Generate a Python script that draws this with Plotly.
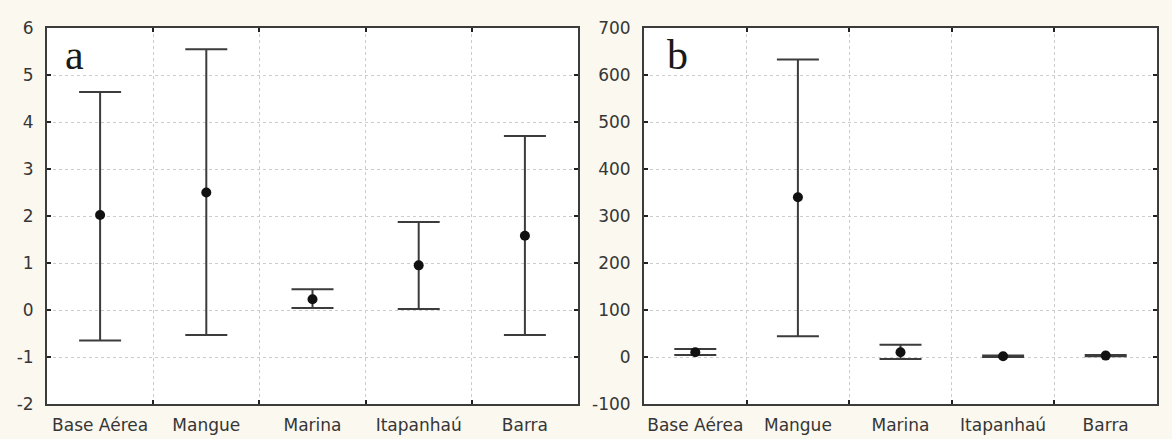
import plotly.graph_objects as go

# Sampling sites
sites = ["Base Aérea", "Mangue", "Marina", "Itapanhaú", "Barra"]

# Panel a: mean with lower / upper interval limits
mean_a = [2.02, 2.50, 0.23, 0.95, 1.58]
low_a = [-0.65, -0.53, 0.04, 0.02, -0.53]
high_a = [4.64, 5.55, 0.44, 1.87, 3.70]

# Panel b: mean with lower / upper interval limits
mean_b = [10, 340, 10, 1.5, 3]
low_b = [4, 44, -4, 0, 1.5]
high_b = [17, 633, 26, 3, 4.5]

# y-axis ticks (labels use a plain hyphen for negatives)
yticks_a = [-2, -1, 0, 1, 2, 3, 4, 5, 6]
yticks_b = [-100, 0, 100, 200, 300, 400, 500, 600, 700]

line_col = "#3c3c3c"
tick_font = dict(family="DejaVu Sans", size=17, color="#363636")


def interval_trace(mean, low, high, xa, ya):
    return go.Scatter(
        x=sites,
        y=mean,
        mode="markers",
        marker=dict(color="#111111", size=10),
        error_y=dict(
            type="data",
            symmetric=False,
            array=[h - m for h, m in zip(high, mean)],
            arrayminus=[m - l for m, l in zip(mean, low)],
            width=21,
            thickness=2,
            color=line_col,
        ),
        xaxis=xa,
        yaxis=ya,
        showlegend=False,
        cliponaxis=False,
    )


fig = go.Figure()
fig.add_trace(interval_trace(mean_a, low_a, high_a, "x", "y"))
fig.add_trace(interval_trace(mean_b, low_b, high_b, "x2", "y2"))

W = 1172
left, right = 47, 15
span = W - left - right
dom_a = [0, (578 - left) / span]
dom_b = [(644 - left) / span, 1]

common_x = dict(
    type="category",
    tickson="boundaries",
    range=[-0.5, 4.5],
    tickangle=0,
    automargin=False,
    showline=True,
    mirror="ticks",
    linecolor=line_col,
    linewidth=2,
    ticks="inside",
    ticklen=4,
    tickwidth=1.5,
    tickcolor="#222",
    showgrid=True,
    gridcolor="#cccccc",
    griddash="dot",
    gridwidth=1,
    tickfont=tick_font,
    ticklabelstandoff=5,
    zeroline=False,
)
common_y = dict(
    automargin=False,
    showline=True,
    mirror="ticks",
    linecolor=line_col,
    linewidth=2,
    ticks="inside",
    ticklen=4,
    tickwidth=1.5,
    tickcolor="#222",
    showgrid=True,
    gridcolor="#cccccc",
    griddash="dot",
    gridwidth=1,
    tickfont=tick_font,
    ticklabelstandoff=8,
    zeroline=False,
)

fig.update_layout(
    width=W,
    height=439,
    margin=dict(l=left, r=right, t=28, b=35),
    paper_bgcolor="#fbf8ef",
    plot_bgcolor="#ffffff",
    xaxis=dict(common_x, domain=dom_a, anchor="y"),
    yaxis=dict(common_y, range=[-2, 6], tickvals=yticks_a,
               ticktext=[str(v) for v in yticks_a], anchor="x"),
    xaxis2=dict(common_x, domain=dom_b, anchor="y2"),
    yaxis2=dict(common_y, range=[-100, 700], tickvals=yticks_b,
                ticktext=[str(v) for v in yticks_b], anchor="x2"),
    annotations=[
        dict(text="a", xref="x domain", yref="y domain", x=0.03, y=0.995,
             xanchor="left", yanchor="top", showarrow=False,
             font=dict(family="Liberation Serif", size=42, color="#1a1a1a")),
        dict(text="b", xref="x2 domain", yref="y2 domain", x=0.04, y=0.995,
             xanchor="left", yanchor="top", showarrow=False,
             font=dict(family="Liberation Serif", size=42, color="#1a1a1a")),
    ],
)

fig.write_html("out.html")
